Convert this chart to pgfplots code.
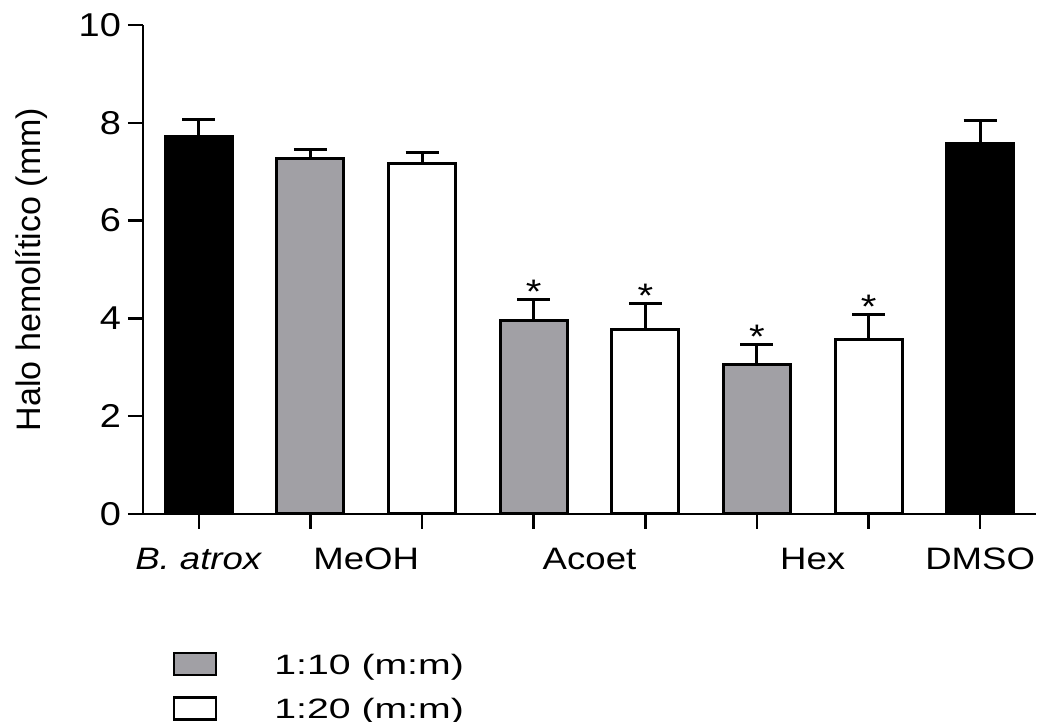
\documentclass[border=0pt]{standalone}
\usepackage{fontspec}
\setmainfont{Liberation Sans}
\usepackage{graphicx}
\usepackage{pgfplots}
\pgfplotsset{compat=1.18}
\definecolor{bargrey}{RGB}{161,160,165}
\newcommand{\sx}[1]{\scalebox{1.18}[1]{#1}}
\newcommand{\yx}[1]{\scalebox{1.15}[1]{#1}}
\newcommand{\lx}[1]{\scalebox{1.4}[1]{#1}}
\begin{document}
\begin{tikzpicture}
\begin{axis}[
  scale only axis,
  width=446.5pt, height=244.5pt,
  xmin=0.5, xmax=8.5, ymin=0, ymax=10,
  axis lines*=left,
  axis line style={line width=1.2pt, black},
  tick align=outside,
  major tick length=7.5pt,
  tick style={line width=1.2pt, black},
  xtick={1,...,8}, xticklabels={},
  extra x ticks={1,2.5,4.5,6.5,8},
  extra x tick labels={\sx{\textit{B. atrox}},\sx{MeOH},\sx{Acoet},\sx{Hex},\sx{DMSO}},
  extra x tick style={major tick length=0pt, tick style={draw=none},
    xticklabel style={anchor=base, yshift=-28pt}},
  ytick={0,2,4,6,8,10},
  yticklabels={\yx{0},\yx{2},\yx{4},\yx{6},\yx{8},\yx{10}},
  xticklabel style={font=\fontsize{15.5}{18}\selectfont},
  yticklabel style={font=\fontsize{16.5}{19}\selectfont},
  ylabel={Halo hemolítico (mm)},
  ylabel style={font=\fontsize{17}{20}\selectfont, at={(axis description cs:-0.1254,0.5)}, anchor=center},
  ybar, bar width=0.6, bar shift=0pt,
  legend style={draw=none, fill=none, at={(rel axis cs:0,0)}, anchor=north west,
    xshift=15pt, yshift=-69pt, inner sep=0pt, outer sep=0pt,
    row sep=10pt, column sep=28.5pt,
    font=\fontsize{14}{16}\selectfont,
    nodes={inner sep=0pt, text height=11pt, text depth=1pt},
    cells={anchor=west}},
  legend cell align=left,
]
\addplot[forget plot, fill=black, draw=black, line width=1.5pt,
  error bars/.cd, y dir=plus, y explicit, error mark=|,
  error bar style={line width=1.5pt, black},
  error mark options={line width=1.5pt, mark size=8.25pt, black}]
  coordinates {(1,7.72) +- (0,0.34) (8,7.58) +- (0,0.46)};
\addplot[fill=bargrey, draw=black, line width=1.5pt,
  legend image code/.code={\draw[fill=bargrey, draw=black, line width=1.2pt] (0pt,-5.5pt) rectangle (21pt,5.5pt);},
  error bars/.cd, y dir=plus, y explicit, error mark=|,
  error bar style={line width=1.5pt, black},
  error mark options={line width=1.5pt, mark size=8.25pt, black}]
  coordinates {(2,7.26) +- (0,0.20) (4,3.96) +- (0,0.43) (6,3.06) +- (0,0.41)};
\addlegendentry{\lx{1:10 (m:m)}}
\addplot[fill=white, draw=black, line width=1.5pt,
  legend image code/.code={\draw[fill=white, draw=black, line width=1.2pt] (0pt,-5.5pt) rectangle (21pt,5.5pt);},
  error bars/.cd, y dir=plus, y explicit, error mark=|,
  error bar style={line width=1.5pt, black},
  error mark options={line width=1.5pt, mark size=8.25pt, black}]
  coordinates {(3,7.16) +- (0,0.24) (5,3.78) +- (0,0.52) (7,3.57) +- (0,0.51)};
\addlegendentry{\lx{1:20 (m:m)}}
\addplot[forget plot, draw=none, fill=none,
  nodes near coords={\sx{*}},
  every node near coord/.style={anchor=base, inner sep=0pt, yshift=-2pt, font=\fontsize{17}{20}\selectfont}]
  coordinates {(4,4.39) (5,4.30) (6,3.47) (7,4.08)};
\end{axis}
\pgfresetboundingbox
\path (current axis.south west) ++(-71.5pt,-104pt) rectangle ++(523pt,361pt);
\end{tikzpicture}
\end{document}
